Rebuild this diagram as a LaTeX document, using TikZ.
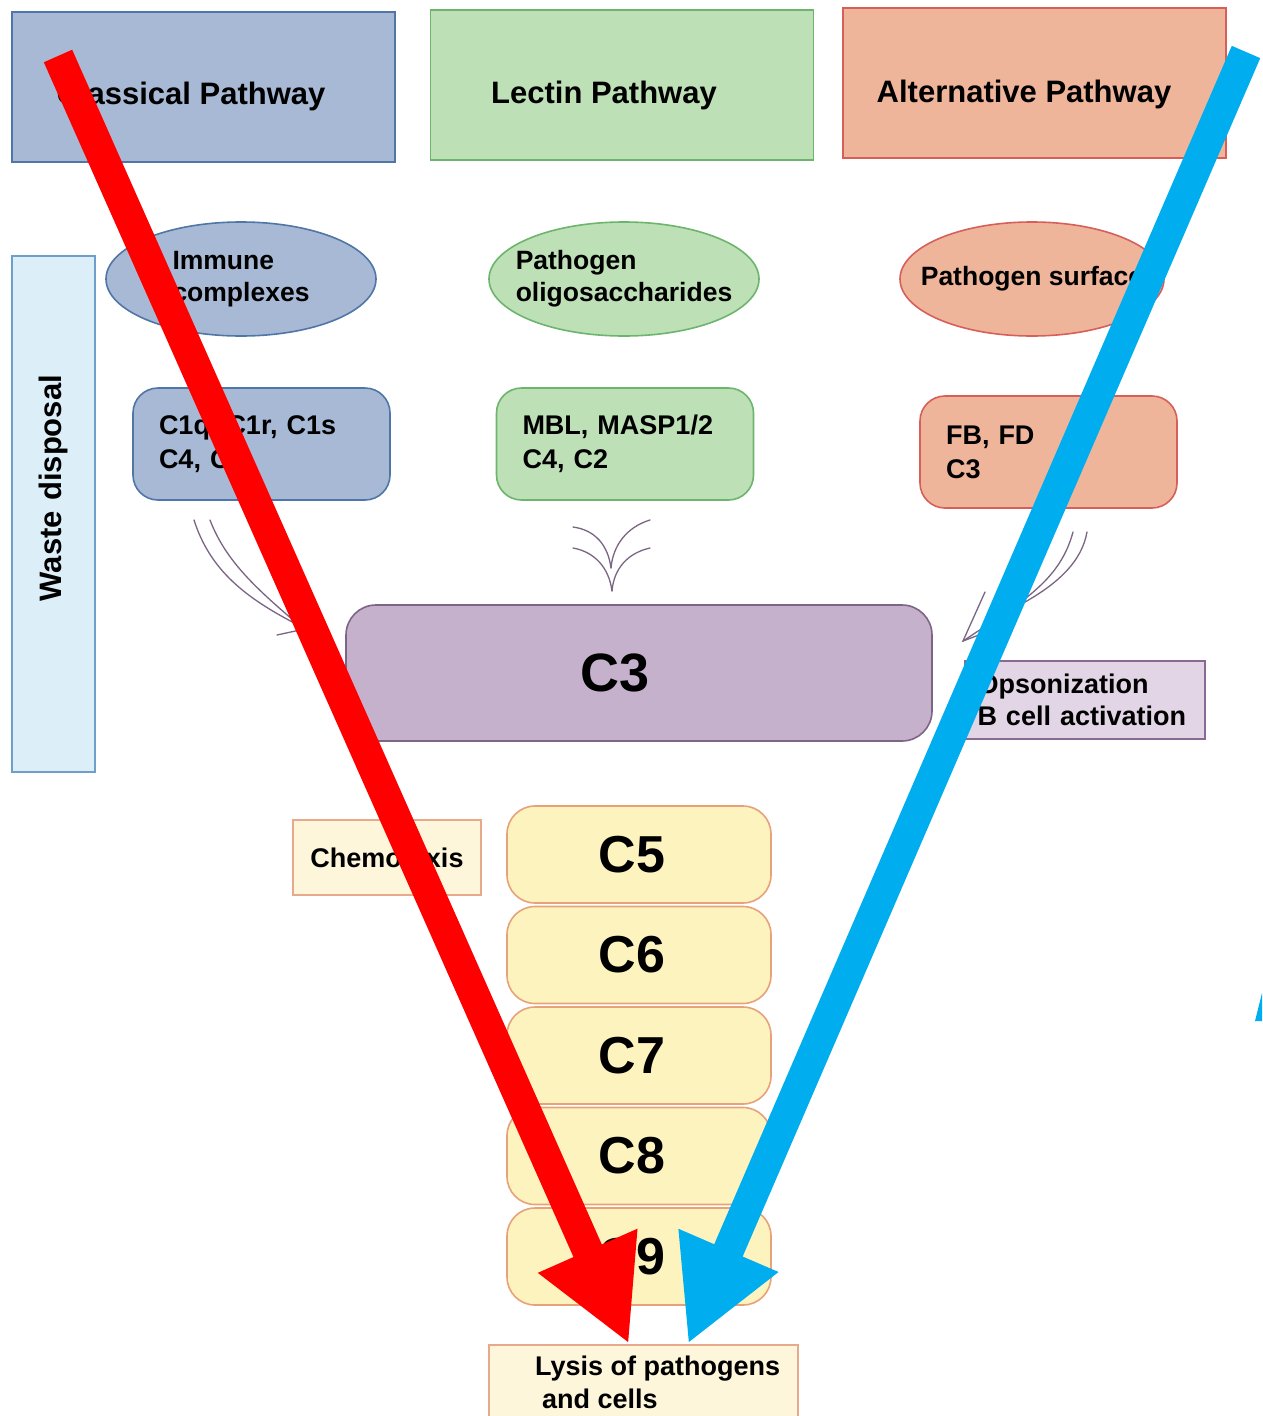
\documentclass[tikz,border=0pt]{standalone}
\usepackage{fontspec}
\setmainfont{Liberation Sans}
\usetikzlibrary{positioning, arrows.meta, shapes.geometric}
\definecolor{classicFill}{HTML}{A8B9D5}
\definecolor{classicLine}{HTML}{4F76A6}
\definecolor{lectinFill}{HTML}{BEE0B6}
\definecolor{lectinLine}{HTML}{6DB56D}
\definecolor{altFill}{HTML}{EFB59B}
\definecolor{altLine}{HTML}{D65F5A}
\definecolor{wasteFill}{HTML}{DCEEF8}
\definecolor{wasteLine}{HTML}{6E9FC9}
\definecolor{hubFill}{HTML}{C6B1CD}
\definecolor{hubLine}{HTML}{7D6585}
\definecolor{opsFill}{HTML}{E2D5E6}
\definecolor{opsLine}{HTML}{8A6A95}
\definecolor{termFill}{HTML}{FDF3BF}
\definecolor{termLine}{HTML}{E8A27A}
\definecolor{noteFill}{HTML}{FEF6DA}
\definecolor{noteLine}{HTML}{E8A88C}
\definecolor{sketchLine}{HTML}{7A6585}
\definecolor{arrowRed}{HTML}{FF0000}
\definecolor{arrowBlue}{HTML}{00AEEF}
\tikzstyle{pathbox} =[draw, line width=1.6pt, minimum width=383pt, minimum height=150pt, font=\fontsize{31}{36}\selectfont\bfseries]
\tikzstyle{trigger} =[ellipse, draw, line width=1.6pt, minimum width=270pt, minimum height=114pt, inner sep=0pt, align=left, font=\fontsize{26.5}{32}\selectfont\bfseries]
\tikzstyle{factorbox} =[draw, rounded corners=25pt, line width=1.6pt, minimum width=257pt, minimum height=112pt, text width=205pt, align=left, font=\fontsize{27}{34}\selectfont\bfseries]
\tikzstyle{termbox} =[draw=termLine, fill=termFill, rounded corners=28pt, line width=1.6pt, minimum width=264pt, minimum height=97pt, font=\fontsize{52}{60}\selectfont\bfseries]
\tikzstyle{notebox} =[draw, line width=1.6pt, font=\fontsize{27}{32}\selectfont\bfseries]
\tikzstyle{sketch} =[draw=sketchLine, line width=1.3pt, line cap=round]

\begin{document}
\begin{tikzpicture}[x=1pt, y=-1pt]
\useasboundingbox (0,0) rectangle (1262,1416);
\clip (0,0) rectangle (1262,1416);
\fill[white] (0,0) rectangle (1262,1416);

% pathways
\node (classicalPath) [pathbox, fill=classicFill, draw=classicLine] at (203.5,87) {\raisebox{-17pt}[0pt][0pt]{Classical Pathway}\hspace*{25pt}};
\node (lectinPath) [pathbox, fill=lectinFill, draw=lectinLine] at (622,85) {\raisebox{-18pt}[0pt][0pt]{Lectin Pathway}\hspace*{36pt}};
\node (altPath) [pathbox, fill=altFill, draw=altLine] at (1034.5,83) {\raisebox{-19pt}[0pt][0pt]{Alternative Pathway}\hspace*{21pt}};

\node (waste) [rotate=90, draw=wasteLine, fill=wasteFill, line width=1.6pt, minimum width=516pt, minimum height=83pt, text width=278pt, align=right, font=\fontsize{31}{36}\selectfont\bfseries] at (53.5,514) {Waste disposal};

% triggers
\node (immuneCx) [trigger, fill=classicFill, draw=classicLine] at (241,279) {Immune\\complexes};
\node (pathOligo) [trigger, fill=lectinFill, draw=lectinLine, inner xsep=-18pt] at (624,279) {Pathogen\\oligosaccharides};
\node (pathSurf) [trigger, fill=altFill, draw=altLine, minimum width=264pt, inner xsep=-22pt] at (1032,279) {Pathogen surface};

% factors
\node (c1Cx) [factorbox, fill=classicFill, draw=classicLine] at (261.5,444) {C1q, C1r, C1s\\C4, C2};
\node (mblCx) [factorbox, fill=lectinFill, draw=lectinLine] at (625,444) {MBL, MASP1/2\\C4, C2};
\node (fbCx) [factorbox, fill=altFill, draw=altLine] at (1048.5,452) {FB, FD\\C3};

% sketched arrows into C3
\draw[sketch] (194,520) .. controls (210,570) and (245,598) .. (300,626);
\draw[sketch] (210,520) .. controls (226,562) and (258,590) .. (300,626);
\draw[sketch] (277,635) -- (300,630);
\draw[sketch] (573,527) .. controls (595,530) and (608,545) .. (611,568);
\draw[sketch] (650,520) .. controls (627,527) and (613,545) .. (611,568);
\draw[sketch] (573,548) .. controls (595,552) and (609,568) .. (612,591);
\draw[sketch] (650,548) .. controls (628,553) and (614,568) .. (612,591);
\draw[sketch] (1073,532) .. controls (1064,565) and (1045,585) .. (1010,610) -- (963,641);
\draw[sketch] (1087,532) .. controls (1082,560) and (1060,585) .. (1010,610);
\draw[sketch] (985,592) -- (963,641) -- (992,630);

\node (c3Hub) [draw=hubLine, fill=hubFill, rounded corners=30pt, line width=1.6pt, minimum width=586pt, minimum height=136pt, font=\fontsize{54}{60}\selectfont\bfseries] at (639,673) {C3\hspace*{48pt}};
\node (opsAct) [notebox, fill=opsFill, draw=opsLine, minimum width=240pt, minimum height=78pt, text width=215pt, align=left] at (1085,700) {Opsonization\\B cell activation};
\node (chemo) [notebox, fill=noteFill, draw=noteLine, minimum width=188pt, minimum height=75pt] at (387,857.5) {Chemotaxis};

% terminal cascade
\foreach \n [count=\i] in {5,...,9}
  \node (c\n) [termbox] at (639,{854.5+(\i-1)*100.5}) {C\n\hspace*{14pt}};

\node (lysis) [notebox, fill=noteFill, draw=noteLine, minimum width=309pt, minimum height=100pt, anchor=north] at (643.5,1344) {};
\node (lysisText) [anchor=north west, inner sep=0pt, align=left, font=\fontsize{27}{33}\selectfont\bfseries] at (535,1356) {Lysis of pathogens\\\hspace*{7pt}and cells};

% overlay arrows
\coordinate (redTail) at (58,56);
\coordinate (redTip) at (629,1344);
\coordinate (blueTail) at (1246,52);
\coordinate (blueTip) at (688,1344);
\draw[-{Triangle[length=102pt, width=101pt]}, line width=31pt, arrowRed] (redTail) -- (redTip);
\draw[-{Triangle[length=102pt, width=101pt]}, line width=31pt, arrowBlue] (blueTail) -- (blueTip);
\fill[arrowBlue] (1255,1021) -- (1262,993) -- (1262,1021) -- cycle;

\end{tikzpicture}
\end{document}
